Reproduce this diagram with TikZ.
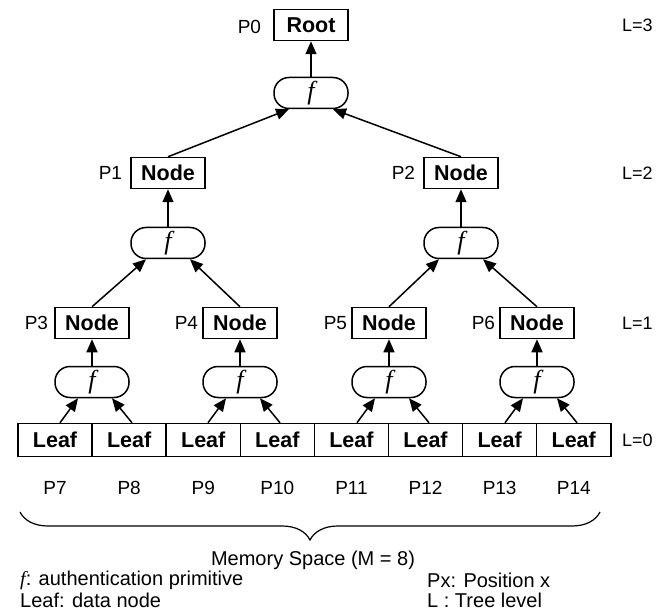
\documentclass[tikz,border=0pt]{standalone}
\usepackage{fontspec}
\setmainfont{Liberation Sans}
\newfontfamily\serifit{Liberation Serif}
\usetikzlibrary{arrows.meta,calc,decorations.pathreplacing}

\begin{document}
\begin{tikzpicture}[x=1pt,y=-1pt,
  box/.style={draw,line width=1.5pt,minimum width=74pt,minimum height=31pt,inner sep=0pt,
    font=\fontsize{21.5}{21.5}\selectfont\bfseries},
  leafbox/.style={box,minimum width=74.1pt,minimum height=33pt},
  fn/.style={draw,line width=1.5pt,rounded corners=15pt,minimum width=74pt,minimum height=31pt,
    inner sep=0pt,font=\serifit\itshape\fontsize{26}{26}\selectfont},
  plabel/.style={inner sep=0pt,font=\fontsize{19}{19}\selectfont},
  lvl/.style={inner sep=0pt,anchor=west,font=\fontsize{18}{18}\selectfont},
  legend/.style={inner sep=0pt,anchor=west,font=\fontsize{20}{20}\selectfont},
  arr/.style={-{Triangle[length=13pt,width=11pt]},line width=1.5pt},
]
\useasboundingbox (0,0) rectangle (672,612);

% tree nodes and hash blocks
\node[box] (root) at (311,25) {Root};
\node[fn]  (f0) at (311,93) {f};
\node[box] (n1) at (168,173) {Node};
\node[box] (n2) at (461,173) {Node};
\node[fn]  (f1) at (168,243) {f};
\node[fn]  (f2) at (461,243) {f};
\foreach \i/\x in {3/92,4/240,5/389,6/537}{
  \node[box] (n\i) at (\x,323) {Node};
  \node[fn]  (f\i) at (\x,382) {f};
}
\foreach \i in {1,...,8}{
  \node[leafbox] (l\i) at ({18+74.1*(\i-0.5)},440) {Leaf};
}

% position labels
\node[plabel,anchor=east] (p0) at ($(root.west)+(-12,2)$) {P0};
\node[plabel,anchor=east] (p1) at ($(n1.west)+(-8,0)$) {P1};
\node[plabel,anchor=east] (p2) at ($(n2.west)+(-8,0)$) {P2};
\node[plabel,anchor=east] (p3) at ($(n3.west)+(-6,0)$) {P3};
\node[plabel,anchor=east] (p4) at ($(n4.west)+(-4,0)$) {P4};
\node[plabel,anchor=east] (p5) at ($(n5.west)+(-4,0)$) {P5};
\node[plabel,anchor=east] (p6) at ($(n6.west)+(-4,0)$) {P6};
\foreach \i/\n in {1/7,2/8,3/9,4/10,5/11,6/12,7/13,8/14}{
  \node[plabel] (q\n) at ($(l\i.south)+(0,31)$) {P\n};
}

% level labels
\node[lvl] (L3) at (622,25) {L=3};
\node[lvl] (L2) at (622,173) {L=2};
\node[lvl] (L1) at (622,323) {L=1};
\node[lvl] (L0) at (622,440) {L=0};

% connectors
\draw[arr] (f0.north) -- (f0.north |- root.south);
\draw[arr] (n1.north) -- ($(f0.south)+(-22,0)$);
\draw[arr] (n2.north) -- ($(f0.south)+(22,0)$);
\draw[arr] (f1.north) -- (f1.north |- n1.south);
\draw[arr] (f2.north) -- (f2.north |- n2.south);
\draw[arr] (n3.north) -- ($(f1.south)+(-22,0)$);
\draw[arr] (n4.north) -- ($(f1.south)+(22,0)$);
\draw[arr] (n5.north) -- ($(f2.south)+(-22,0)$);
\draw[arr] (n6.north) -- ($(f2.south)+(22,0)$);
\foreach \i/\a/\b in {3/1/2,4/3/4,5/5/6,6/7/8}{
  \draw[arr] (f\i.north) -- (f\i.north |- n\i.south);
  \coordinate (t\a) at ($(f\i.south |- l\a.north)+(-32,0)$);
  \coordinate (t\b) at ($(f\i.south |- l\b.north)+(40,0)$);
  \draw[arr] (t\a) -- ($(f\i.south)+(-14,0)$);
  \draw[arr] (t\b) -- ($(f\i.south)+(20,0)$);
}

% memory space brace
\coordinate (bl) at (20,512);
\coordinate (br) at (600,512);
\draw[line width=1.2pt,decorate,decoration={brace,mirror,amplitude=28pt,aspect=0.5}] (bl) -- (br);
\node[legend,anchor=center] (mem) at (313,560) {Memory Space (M = 8)};

% legend
\node[legend] (lg1) at (20,580) {{\serifit\itshape f}: authentication primitive};
\node[legend] (lg2) at (20,600) {Leaf: data node};
\node[legend] (lg3) at (427,580) {Px: Position x};
\node[legend] (lg4) at (427,600) {L : Tree level};
\end{tikzpicture}
\end{document}
